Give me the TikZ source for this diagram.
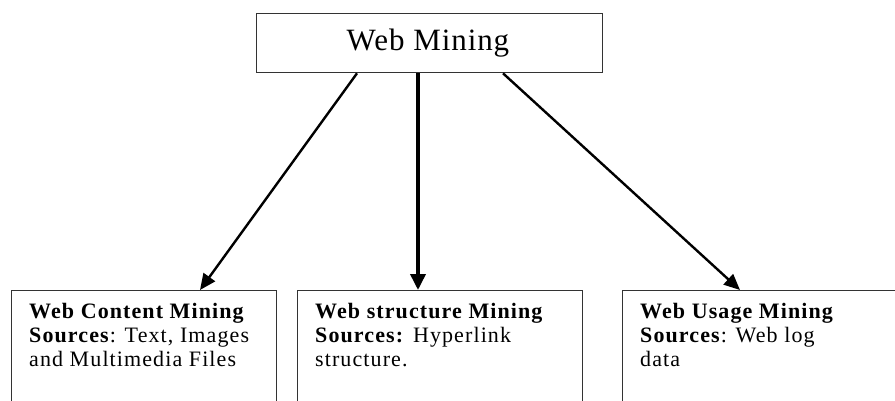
\documentclass[tikz,border=0pt]{standalone}
\usepackage{fontspec}
\setmainfont{Liberation Serif}
\usetikzlibrary{arrows.meta,calc}
\newfontfamily\boxfont[LetterSpace=5]{Liberation Serif}
\newfontfamily\topfont[LetterSpace=3]{Liberation Serif}
\begin{document}
\begin{tikzpicture}[x=1pt,y=-1pt,
  frame/.style={draw=black!80,line width=1.3pt,anchor=north west,inner sep=0pt},
  label/.style={anchor=north west,inner sep=0pt,align=left,font=\boxfont\fontsize{22}{24}\selectfont},
  arr/.style={line width=2.4pt,-{Triangle[length=16pt,width=14pt]}},
  arrv/.style={line width=3.6pt,-{Triangle[length=16pt,width=15pt]}}]
\useasboundingbox (0,0) rectangle (895,401);
\clip (0,0) rectangle (895,401);
\node[frame,minimum width=346pt,minimum height=59pt] (top) at (256,13) {};
\node[font=\topfont\fontsize{31}{34}\selectfont,inner sep=0pt] (toptext) at (428,43) {Web Mining};
\node[frame,minimum width=265pt,minimum height=140pt] (content) at (11,290) {};
\node[frame,minimum width=285pt,minimum height=140pt] (structure) at (297,290) {};
\node[frame,minimum width=290pt,minimum height=140pt] (usage) at (622,290) {};
\node[label] (contenttext) at (29,303) {\textbf{Web Content Mining}\\\textbf{Sources}: Text, Images\\and Multimedia Files};
\node[label] (structuretext) at (315,303) {\textbf{Web structure Mining}\\\textbf{Sources:} Hyperlink\\structure.};
\node[label] (usagetext) at (640,303) {\textbf{Web Usage Mining}\\\textbf{Sources}: Web log\\data};
\draw[arr] ([xshift=101pt]top.south west) -- ([xshift=189pt]content.north west);
\draw[arrv] ([xshift=162pt]top.south west) -- ([xshift=121pt]structure.north west);
\draw[arr] ([xshift=247pt]top.south west) -- ([xshift=118pt]usage.north west);
\end{tikzpicture}
\end{document}
